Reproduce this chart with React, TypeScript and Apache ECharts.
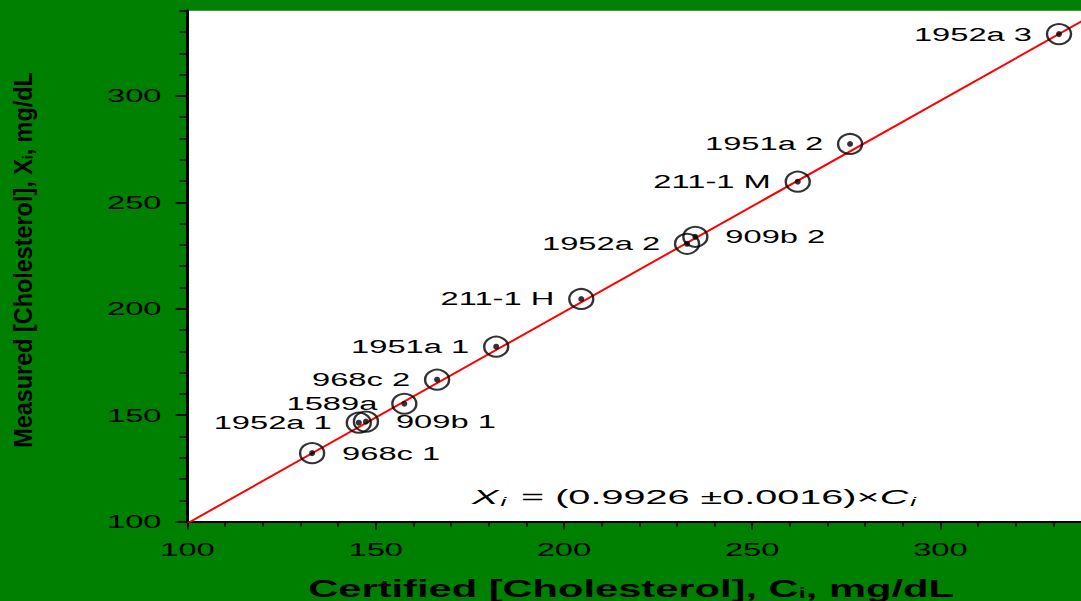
import React, { useEffect, useRef } from 'react';
import * as echarts from 'echarts';

// ---- data ----
const pointLabels = ['968c 1', '1952a 1', '909b 1', '1589a', '968c 2', '1951a 1', '211-1 H', '1952a 2', '909b 2', '211-1 M', '1951a 2', '1952a 3'];
const certified = [133.1, 145.5, 147.4, 157.6, 166.3, 182.0, 204.6, 232.7, 234.9, 262.1, 276.0, 331.5];
const measured = [132.2, 146.5, 147.0, 155.4, 166.7, 182.2, 204.6, 230.5, 233.8, 259.7, 277.4, 329.0];
const labelSide = ['right', 'left', 'right', 'left', 'left', 'left', 'left', 'left', 'right', 'left', 'left', 'left'];
const xTickLabels = [100, 150, 200, 250, 300];
const yTickLabels = [100, 150, 200, 250, 300];
const fitSlope = 0.9926;
const fitRange = [100, 340];
const axisMin = 100;
const axisMax = 340;

const FONT = '"Liberation Sans", Arial, Helvetica, sans-serif';
const STRETCH = 1.72;

export default function App() {
  const ref = useRef<HTMLDivElement>(null);
  useEffect(() => {
    document.body.style.margin = '0';
    document.body.style.overflow = 'hidden';
    const chart = echarts.init(ref.current as HTMLDivElement, null, { renderer: 'svg' });
    const points = certified.map((c, i) => [c, measured[i], i]);
    const fitLine = fitRange.map((c) => [c, c * fitSlope]);

    const tickStyle = { color: '#000', width: 1.5 };
    const option: any = {
      animation: false,
      backgroundColor: '#008000',
      grid: { left: 187.5, right: 0, top: 10.7, bottom: 79.3, show: true, backgroundColor: '#ffffff', borderWidth: 0 },
      xAxis: [
        {
          type: 'value', min: axisMin, max: axisMax, interval: 10, position: 'bottom',
          axisLine: { show: true, lineStyle: { color: '#000', width: 2 } },
          axisTick: { show: true, inside: false, length: 5, lineStyle: tickStyle },
          axisLabel: { show: false }, splitLine: { show: false },
        },
        {
          type: 'value', min: axisMin, max: axisMax, interval: 50, position: 'bottom',
          axisLine: { show: false },
          axisTick: { show: true, inside: false, length: 8, customValues: xTickLabels, lineStyle: tickStyle },
          axisLabel: { show: false }, splitLine: { show: false },
        },
      ],
      yAxis: [
        {
          type: 'value', min: axisMin, max: axisMax, interval: 10, position: 'left',
          axisLine: { show: true, lineStyle: { color: '#000', width: 3 } },
          axisTick: { show: true, inside: false, length: 8, lineStyle: tickStyle },
          axisLabel: { show: false }, splitLine: { show: false },
        },
        {
          type: 'value', min: axisMin, max: axisMax, interval: 50, position: 'left',
          axisLine: { show: false },
          axisTick: { show: true, inside: false, length: 12, customValues: yTickLabels, lineStyle: tickStyle },
          axisLabel: { show: false }, splitLine: { show: false },
        },
      ],
      series: [
        {
          type: 'line', data: fitLine, symbol: 'none', silent: true, z: 1,
          lineStyle: { color: '#ff0000', width: 2 },
        },
        {
          type: 'scatter', data: points, symbol: 'circle', symbolSize: [24, 20], silent: true, z: 3,
          itemStyle: { color: 'rgba(0,0,0,0)', borderColor: '#000', borderWidth: 2.2 },
        },
        {
          type: 'scatter', data: points, symbol: 'circle', symbolSize: 6, silent: true, z: 4,
          itemStyle: { color: '#000' },
        },
        {
          type: 'custom', data: points, clip: false, silent: true, z: 5,
          renderItem: (params: any, api: any) => {
            const p = api.coord([api.value(0), api.value(1)]);
            const i = params.dataIndex;
            const left = labelSide[i] === 'left';
            return {
              type: 'text', x: left ? p[0] - 27 : p[0] + 30, y: p[1], scaleX: STRETCH,
              style: { text: pointLabels[i], font: `19px ${FONT}`, fill: '#000', align: left ? 'right' : 'left', verticalAlign: 'middle' },
            };
          },
        },
        {
          type: 'custom', data: xTickLabels.map((v) => [v, axisMin]), clip: false, silent: true,
          renderItem: (params: any, api: any) => {
            const p = api.coord([api.value(0), axisMin]);
            return {
              type: 'text', x: p[0], y: p[1] + 28, scaleX: STRETCH,
              style: { text: String(xTickLabels[params.dataIndex]), font: `19px ${FONT}`, fill: '#000', align: 'center', verticalAlign: 'middle' },
            };
          },
        },
        {
          type: 'custom', data: yTickLabels.map((v) => [axisMin, v]), clip: false, silent: true,
          renderItem: (params: any, api: any) => {
            const p = api.coord([axisMin, api.value(1)]);
            return {
              type: 'text', x: p[0] - 26, y: p[1], scaleX: STRETCH,
              style: { text: String(yTickLabels[params.dataIndex]), font: `19px ${FONT}`, fill: '#000', align: 'right', verticalAlign: 'middle' },
            };
          },
        },
      ],
      graphic: [
        {
          type: 'text', x: 472, y: 497, scaleX: 1.98, silent: true, z: 10,
          style: {
            text: '{it|X}{sub|i} = (0.9926 ±0.0016)×{it|C}{sub|i}',
            font: `20px ${FONT}`, fill: '#000', verticalAlign: 'middle',
            rich: {
              it: { fontStyle: 'italic', fontSize: 20, fontFamily: FONT },
              sub: { fontStyle: 'italic', fontSize: 13, fontFamily: FONT, padding: [10, 2, 0, 1] },
            },
          },
        },
        {
          type: 'text', x: 631, y: 588, scaleX: 1.7, silent: true,
          style: {
            text: 'Certified [Cholesterol], C{sub|i}, mg/dL',
            font: `bold 24.5px ${FONT}`, fill: '#000', align: 'center', verticalAlign: 'middle',
            rich: { sub: { fontWeight: 'bold', fontSize: 15, fontFamily: FONT, padding: [10, 0, 0, 0] } },
          },
        },
        {
          type: 'text', x: 23, y: 260, rotation: Math.PI / 2, scaleX: 0.9, silent: true,
          style: {
            text: 'Measured [Cholesterol], X{sub|i}, mg/dL',
            font: `bold 26px ${FONT}`, fill: '#000', align: 'center', verticalAlign: 'middle',
            rich: { sub: { fontWeight: 'bold', fontSize: 15, fontFamily: FONT, padding: [10, 0, 0, 0] } },
          },
        },
      ],
    };
    chart.setOption(option);
    return () => chart.dispose();
  }, []);
  return (
    <div style={{ position: 'fixed', left: 0, top: 0, width: 1081, height: 601, overflow: 'hidden' }}>
      <div ref={ref} style={{ width: 1091, height: 601 }} />
    </div>
  );
}
